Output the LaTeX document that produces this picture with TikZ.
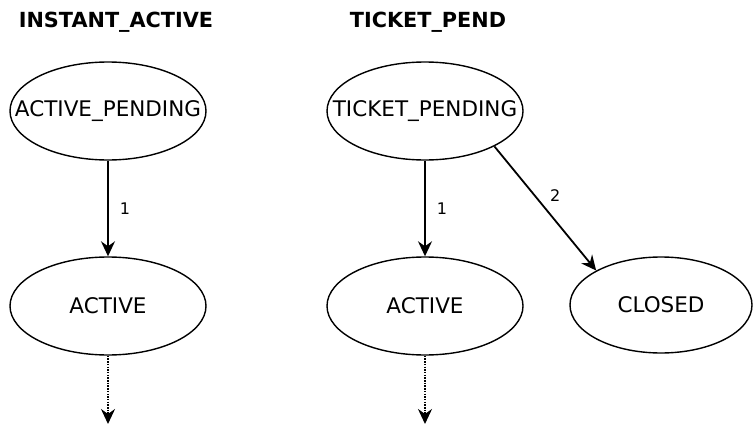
\documentclass[tikz,border=0pt]{standalone}
\usepackage{fontspec}
\setmainfont{DejaVu Sans}
\usetikzlibrary{shapes.geometric,arrows.meta}
\newcommand{\stname}[1]{\makebox[0pt]{#1}}
\begin{document}
\begin{tikzpicture}[x=1pt,y=-1pt,
	state/.style={draw,ellipse,line width=1.4pt,inner sep=0pt,minimum width=196pt,minimum height=98pt,font=\fontsize{21.5}{25}\selectfont},
	title/.style={font=\bfseries\fontsize{20.8}{25}\selectfont},
	trans/.style={line width=1.8pt,-{Stealth[length=15pt,width=14pt,inset=5pt]}},
	lbl/.style={font=\fontsize{16}{18}\selectfont,inner sep=0pt}]
	\useasboundingbox(0,0)rectangle(755,428);
	\node[title](t1)at(116,22){INSTANT\_ACTIVE};
	\node[title](t2)at(428,22){TICKET\_PEND};
	\node[state](ap)at(108,111){\stname{ACTIVE\_PENDING}};
	\node[state](a1)at(108,306){\stname{ACTIVE}};
	\node[state](tp)at(425,111){\stname{TICKET\_PENDING}};
	\node[state](a2)at(425,306){\stname{ACTIVE}};
	\node[state,minimum width=182pt,minimum height=96pt](cl)at(661,305){\stname{CLOSED}};
	\coordinate(e1)at(108,424);
	\coordinate(e2)at(425,424);
	\draw[trans](ap)--node[lbl,right=11pt]{1}(a1);
	\draw[trans](tp)--node[lbl,right=11pt]{1}(a2);
	\draw[trans](tp.-27)--node[lbl,pos=0.4,right=14pt]{2}(cl.152);
	\draw[trans,dash pattern=on 1.5pt off 1.2pt](a1)--(e1);
	\draw[trans,dash pattern=on 1.5pt off 1.2pt](a2)--(e2);
\end{tikzpicture}
\end{document}
